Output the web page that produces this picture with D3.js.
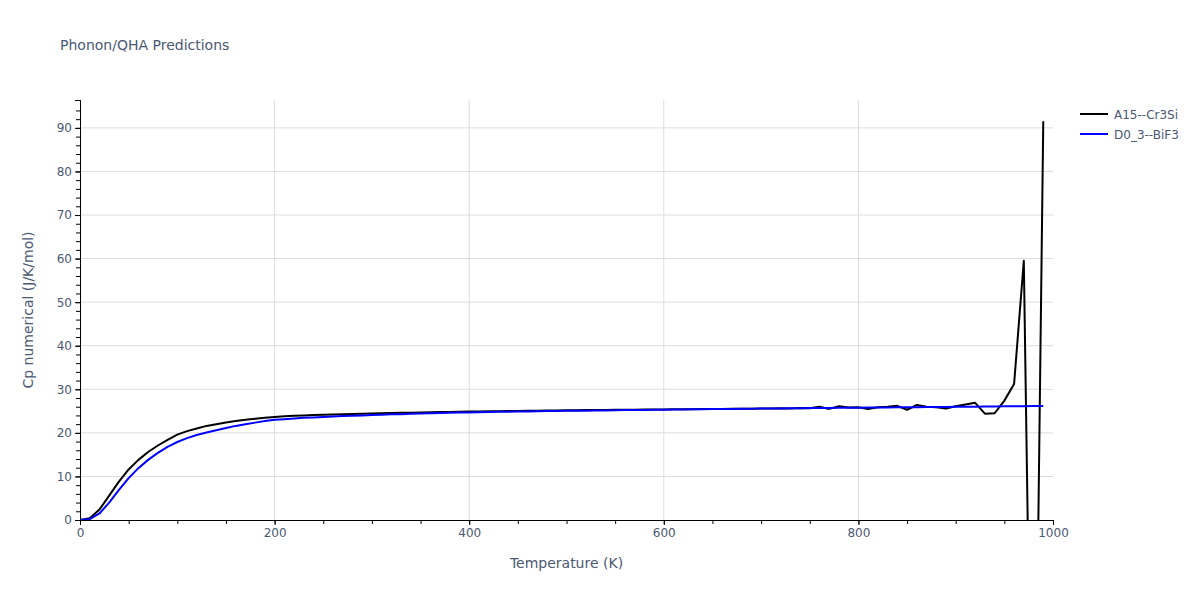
<!DOCTYPE html>
<html>
<head>
<meta charset="utf-8">
<script src="https://cdn.jsdelivr.net/npm/d3@7"></script>
<style>
  html, body { margin: 0; padding: 0; background: #fff; }
  svg { display: block; font-family: "DejaVu Sans", Verdana, sans-serif; }
</style>
</head>
<body>
<div id="chart"></div>
<script>
// ---- Data ----
const temperatures = d3.range(0, 1000, 10); // 0..990 K (sampling grid of the reference)

const cr3siCp = [
  0, 0.4, 2.4, 5.6, 8.8, 11.6, 13.8, 15.6, 17.1, 18.4,
  19.6, 20.4, 21.0, 21.6, 22.0, 22.4, 22.7, 23.0, 23.25, 23.45,
  23.65, 23.8, 23.9, 24.0, 24.08, 24.15, 24.22, 24.28, 24.34, 24.4,
  24.45, 24.5, 24.55, 24.6, 24.64, 24.68, 24.72, 24.76, 24.8, 24.84,
  24.88, 24.91, 24.94, 24.97, 25.0, 25.03, 25.06, 25.09, 25.12, 25.15,
  25.18, 25.2, 25.22, 25.24, 25.26, 25.28, 25.3, 25.32, 25.34, 25.36,
  25.38, 25.4, 25.42, 25.44, 25.46, 25.48, 25.5, 25.52, 25.54, 25.56,
  25.58, 25.6, 25.65, 25.62, 25.68, 25.66, 26.0, 25.5, 26.1, 25.8,
  25.9, 25.5, 25.9, 26.0, 26.2, 25.3, 26.4, 26.0, 25.9, 25.6,
  26.1, 26.5, 26.9, 24.4, 24.5, 27.4, 31.2, 59.5, -90, 91.5
];

const bif3Cp = [
  0, 0.2, 1.5, 4.0, 6.9, 9.6, 11.9, 13.8, 15.4, 16.8,
  17.9, 18.8, 19.5, 20.1, 20.6, 21.1, 21.6, 22.0, 22.35, 22.7,
  23.0, 23.15, 23.3, 23.45, 23.55, 23.65, 23.75, 23.85, 23.93, 24.0,
  24.1, 24.18, 24.25, 24.3, 24.38, 24.44, 24.5, 24.55, 24.6, 24.65,
  24.7, 24.74, 24.78, 24.82, 24.86, 24.9, 24.93, 24.96, 24.99, 25.02,
  25.05, 25.08, 25.1, 25.13, 25.16, 25.19, 25.22, 25.24, 25.27, 25.3,
  25.32, 25.35, 25.37, 25.4, 25.42, 25.45, 25.47, 25.5, 25.52, 25.54,
  25.57, 25.59, 25.62, 25.64, 25.66, 25.68, 25.7, 25.72, 25.74, 25.76,
  25.78, 25.8, 25.82, 25.84, 25.86, 25.88, 25.9, 25.92, 25.94, 25.96,
  25.98, 26.0, 26.02, 26.04, 26.06, 26.08, 26.1, 26.12, 26.14, 26.16
];

const seriesNames = ["A15--Cr3Si", "D0_3--BiF3"];
const seriesColors = ["#000000", "#0000ff"];
const xTickValues = [0, 200, 400, 600, 800, 1000];
const yTickValues = [0, 10, 20, 30, 40, 50, 60, 70, 80, 90];
const xDomain = [0, 1000];
const yDomain = [0, 96.4];

const titleText = "Phonon/QHA Predictions";
const xTitle = "Temperature (K)";
const yTitle = "Cp numerical (J/K/mol)";

// ---- Layout ----
const W = 1200, H = 600;
const margin = { left: 80, right: 147, top: 100, bottom: 80 };
const plotW = W - margin.left - margin.right;
const plotH = H - margin.top - margin.bottom;
const textColor = "#4a5872";
const gridColor = "#dcdcdc";

const svg = d3.select("#chart").append("svg")
  .attr("width", W).attr("height", H);

svg.append("rect").attr("width", W).attr("height", H).attr("fill", "#fff");

const x = d3.scaleLinear().domain(xDomain).range([0, plotW]);
const y = d3.scaleLinear().domain(yDomain).range([plotH, 0]);

const g = svg.append("g").attr("transform", `translate(${margin.left},${margin.top})`);

// grid
g.append("g").selectAll("line").data(xTickValues.filter(v => v > 0 && v < 1000))
  .join("line")
  .attr("x1", d => x(d)).attr("x2", d => x(d))
  .attr("y1", 0).attr("y2", plotH)
  .attr("stroke", gridColor).attr("stroke-width", 1);
g.append("g").selectAll("line").data(yTickValues.filter(v => v > 0))
  .join("line")
  .attr("x1", 0).attr("x2", plotW)
  .attr("y1", d => y(d)).attr("y2", d => y(d))
  .attr("stroke", gridColor).attr("stroke-width", 1);

// clip
svg.append("defs").append("clipPath").attr("id", "plotclip")
  .append("rect").attr("x", 0).attr("y", 0).attr("width", plotW).attr("height", plotH);

const seriesData = [cr3siCp, bif3Cp];
const line = d3.line().x((d, i) => x(temperatures[i])).y(d => y(d));
const lines = g.append("g").attr("clip-path", "url(#plotclip)");
seriesData.forEach((vals, k) => {
  lines.append("path")
    .datum(vals)
    .attr("d", line)
    .attr("fill", "none")
    .attr("stroke", seriesColors[k])
    .attr("stroke-width", 2)
    .attr("stroke-linejoin", "round");
});

// axes
const xMinor = d3.range(0, 1001, 50);
const xAxisMinor = d3.axisBottom(x).tickValues(xMinor).tickSize(4).tickFormat("");
const xAxis = d3.axisBottom(x).tickValues(xTickValues).tickSize(5).tickPadding(3).tickFormat(d3.format("d"));
const yMinor = d3.range(0, 96, 2);
const yAxisMinor = d3.axisLeft(y).tickValues(yMinor).tickSize(4).tickFormat("");
const yAxis = d3.axisLeft(y).tickValues(yTickValues).tickSize(5).tickPadding(3).tickFormat(d3.format("d"));

function styleAxis(sel) {
  sel.select(".domain").attr("stroke", "#000").attr("stroke-width", 1);
  sel.selectAll(".tick line").attr("stroke", "#000");
  sel.selectAll("text").attr("fill", textColor).attr("font-size", 12)
    .attr("font-family", '"DejaVu Sans", Verdana, sans-serif');
}
g.append("g").attr("transform", `translate(0,${plotH})`).call(xAxisMinor).call(styleAxis);
g.append("g").attr("transform", `translate(0,${plotH})`).call(xAxis).call(styleAxis);
g.append("g").call(yAxisMinor).call(styleAxis);
g.append("g").call(yAxis).call(styleAxis);

// titles
svg.append("text").attr("x", 60).attr("y", 50)
  .attr("fill", textColor).attr("font-size", 14).text(titleText);
svg.append("text").attr("x", margin.left + plotW / 2).attr("y", 568)
  .attr("text-anchor", "middle").attr("fill", textColor).attr("font-size", 14).text(xTitle);
svg.append("text")
  .attr("transform", `translate(33,${margin.top + plotH / 2}) rotate(-90)`)
  .attr("text-anchor", "middle").attr("fill", textColor).attr("font-size", 14).text(yTitle);

// legend
const legend = svg.append("g").attr("transform", "translate(1080,114)");
seriesNames.forEach((name, k) => {
  const row = legend.append("g").attr("transform", `translate(0,${k * 20})`);
  row.append("line").attr("x1", 0).attr("x2", 28).attr("y1", 0).attr("y2", 0)
    .attr("stroke", seriesColors[k]).attr("stroke-width", 2);
  row.append("text").attr("x", 34).attr("y", 4.5)
    .attr("fill", textColor).attr("font-size", 12).text(name);
});
</script>
</body>
</html>
